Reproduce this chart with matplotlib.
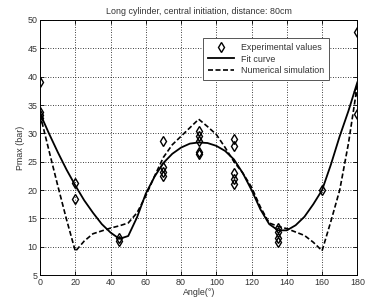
import matplotlib
matplotlib.use('Agg')
import matplotlib.pyplot as plt

# experimental points (angle, Pmax)
exp_angle = [0, 0, 0, 0, 20, 20, 45, 45, 70, 70, 70, 70,
             90, 90, 90, 90, 90, 110, 110, 110, 110, 110,
             135, 135, 135, 135, 160, 180, 180, 180]
exp_pmax = [39.0, 33.8, 33.2, 32.7, 21.2, 18.5, 11.5, 11.0, 28.6, 24.0, 23.2, 22.4,
            30.4, 29.6, 28.7, 26.8, 26.4, 29.0, 27.8, 23.0, 21.9, 21.0,
            13.3, 12.6, 11.5, 10.9, 20.0, 47.9, 37.4, 33.5]

# fit curve, read every 5 degrees
fit_angle = list(range(0, 181, 5))
fit_pmax = [33.5, 30.0, 26.7, 23.6, 20.8, 18.2, 16.0, 14.0, 12.5, 11.4,
            11.9, 15.2, 19.4, 22.4, 24.8, 26.4, 27.5, 28.2, 28.4, 28.3,
            27.8, 26.9, 25.4, 23.0, 20.0, 16.6, 14.0, 12.9, 12.9, 13.8,
            15.3, 17.5, 20.0, 24.5, 29.5, 34.0, 39.0]

# numerical simulation
sim_angle = list(range(0, 181, 5))
sim_pmax = [33.3, 27.0, 20.8, 14.8, 9.2, 11.0, 12.3, 12.8, 13.3, 13.7,
            14.2, 16.0, 19.0, 22.5, 25.8, 28.0, 29.5, 31.0, 32.5, 31.2,
            29.8, 27.5, 25.0, 23.0, 20.5, 17.0, 14.2, 13.6, 13.2, 12.6,
            12.0, 10.8, 9.3, 14.5, 20.0, 28.3, 38.5]

plt.rcParams['font.family'] = ['Liberation Sans', 'DejaVu Sans']
txt = '#333333'
fs = 6.4

fig = plt.figure(figsize=(3.68, 3.03), dpi=100)
ax = fig.add_axes([0.109, 0.092, 0.862, 0.842])

ax.plot(exp_angle, exp_pmax, linestyle='none', marker='d', markersize=5,
        markerfacecolor='none', markeredgecolor='black', markeredgewidth=1.0,
        label='Experimental values')
ax.plot(fit_angle, fit_pmax, color='black', lw=1.3, label='Fit curve')
ax.plot(sim_angle, sim_pmax, color='black', lw=1.2, linestyle=(0, (3, 1.5)),
        label='Numerical simulation')

ax.set_xlim(0, 180)
ax.set_ylim(5, 50)
ax.set_xticks(range(0, 181, 20))
ax.set_yticks(range(5, 51, 5))
ax.grid(True, color='black', linestyle=(0, (1, 2)), linewidth=0.6)
ax.tick_params(direction='in', top=True, right=True, length=3, width=0.6,
               labelsize=fs, labelcolor=txt, pad=2)
for s in ax.spines.values():
    s.set_linewidth(0.7)

ax.set_title('Long cylinder, central initiation, distance: 80cm', fontsize=fs,
             color=txt, pad=4)
ax.set_xlabel('Angle(°)', fontsize=fs, color=txt, labelpad=1)
ax.set_ylabel('Pmax (bar)', fontsize=fs, color=txt, labelpad=2)

leg = ax.legend(loc='upper left', bbox_to_anchor=(0.5, 0.945), fontsize=fs,
                fancybox=False, framealpha=1, edgecolor='#555555',
                handlelength=3.0, borderpad=0.5, labelspacing=0.3)
leg.get_frame().set_linewidth(0.7)
for t in leg.get_texts():
    t.set_color(txt)

fig.savefig('out.png', dpi=100)
